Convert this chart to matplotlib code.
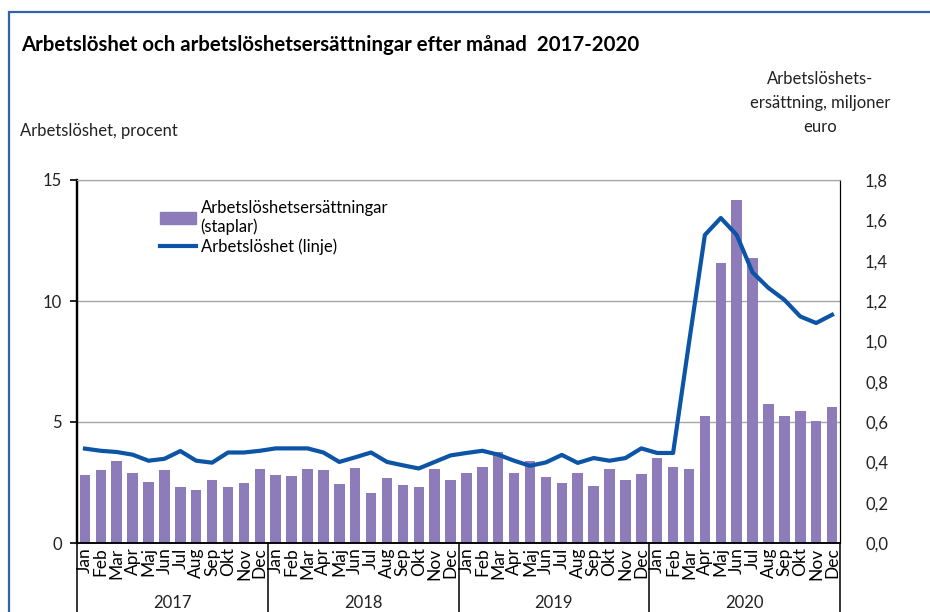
import matplotlib
matplotlib.use("Agg")
from matplotlib import pyplot as plt
from matplotlib.patches import Rectangle
from matplotlib.lines import Line2D
from matplotlib.transforms import blended_transform_factory

plt.rcParams['font.family'] = ['Lato', 'DejaVu Sans']

years = ["2017", "2018", "2019", "2020"]
months = ["Jan", "Feb", "Mar", "Apr", "Maj", "Jun", "Jul", "Aug", "Sep", "Okt", "Nov", "Dec"]

# arbetslöshetsersättningar, miljoner euro (staplar)
ersattning = [
    0.337, 0.363, 0.408, 0.347, 0.304, 0.363, 0.276, 0.264, 0.312, 0.276, 0.299, 0.368,
    0.337, 0.334, 0.368, 0.360, 0.294, 0.373, 0.249, 0.321, 0.289, 0.276, 0.368, 0.312,
    0.347, 0.377, 0.451, 0.347, 0.406, 0.329, 0.299, 0.347, 0.281, 0.365, 0.312, 0.342,
    0.421, 0.377, 0.368, 0.630, 1.386, 1.699, 1.413, 0.689, 0.630, 0.654, 0.606, 0.673,
]
# arbetslöshet, procent (linje)
arbetsloshet = [
    3.90, 3.81, 3.76, 3.65, 3.40, 3.48, 3.80, 3.40, 3.32, 3.74, 3.74, 3.81,
    3.91, 3.91, 3.91, 3.74, 3.35, 3.54, 3.74, 3.35, 3.21, 3.08, 3.35, 3.62,
    3.72, 3.81, 3.65, 3.40, 3.19, 3.33, 3.64, 3.31, 3.51, 3.40, 3.51, 3.91,
    3.72, 3.72, 8.27, 12.73, 13.43, 12.73, 11.18, 10.54, 10.05, 9.36, 9.09, 9.43,
]

W, H = 930, 612
fig = plt.figure(figsize=(W / 100, H / 100), dpi=100)
ax = fig.add_axes([77 / W, 1 - 543 / H, (840 - 77) / W, 363 / H])
ax2 = ax.twinx()

x = list(range(len(ersattning)))

# bars on right axis
ax.bar(x, ersattning, width=0.66, color="#8E7CBA", zorder=2)
ax.set_ylim(0, 1.8)
ax.set_xlim(-0.5, len(x) - 0.5)
for g in [0.6, 1.2, 1.8]:
    ax.axhline(g, color="#A6A6A6", lw=1.0, zorder=0)
ax.yaxis.tick_right()
ax.set_yticks([i * 0.2 for i in range(10)])
ax.set_yticklabels([f"{i * 0.2:.1f}".replace(".", ",") for i in range(10)])
ax.tick_params(axis="y", length=0, pad=18, labelsize=12, colors="#222222")
ax.tick_params(axis="x", bottom=False, labelbottom=False)

# line on left axis
ax2.plot(x, arbetsloshet, color="#0B54A6", lw=3.0, zorder=3, solid_joinstyle="round")
ax2.set_ylim(0, 15)
ax2.set_yticks([0, 5, 10, 15])
ax2.yaxis.tick_left()
ax2.tick_params(axis="y", length=5, width=1.2, pad=6, labelsize=12, colors="black",
                labelcolor="#222222")

for a in (ax, ax2):
    a.spines["top"].set_color("#A6A6A6")
    a.spines["left"].set_color("black")
    a.spines["right"].set_color("black")
    a.spines["bottom"].set_color("black")
    a.spines["left"].set_linewidth(1.6)
    a.spines["bottom"].set_linewidth(1.1)

# month and year labels
tr = blended_transform_factory(ax.transData, ax.transAxes)
for i in x:
    ax.text(i, -0.012, months[i % 12], rotation=90, ha="center", va="top",
            fontsize=12.5, transform=tr)
for k, yr in enumerate(years):
    ax.text(k * 12 + 5.5, -0.165, yr, ha="center", va="center", fontsize=12,
            transform=tr, color="#222222")
for k in range(len(years) + 1):
    ax.add_line(Line2D([k * 12 - 0.5, k * 12 - 0.5], [0, -0.2], transform=tr,
                       color="black", lw=1.1, clip_on=False))

# legend
handles = [Rectangle((0, 0), 1, 1, color="#8E7CBA"),
           Line2D([], [], color="#0B54A6", lw=3.0)]
labels = ["Arbetslöshetsersättningar\n(staplar)", "Arbetslöshet (linje)"]
fig.legend(handles, labels, loc="upper left", bbox_to_anchor=(153 / W, 1 - 193 / H),
           frameon=False, fontsize=12, handlelength=2.2, handletextpad=0.25,
           labelspacing=0.2, borderaxespad=0)

# titles
fig.text(21 / W, 1 - 45 / H, "Arbetslöshet och arbetslöshetsersättningar efter månad  2017-2020",
         fontsize=14.7, fontweight="bold", va="center", ha="left")
fig.text(20 / W, 1 - 131 / H, "Arbetslöshet, procent", fontsize=12, va="center", ha="left",
         color="#222222")
fig.text(820 / W, 1 - 103 / H, "Arbetslöshets-\nersättning, miljoner\neuro", fontsize=12,
         va="center", ha="center", multialignment="center", linespacing=1.6, color="#222222")

# outer frame
fig.add_artist(Rectangle((9 / W, -0.1), 1.2, 1 - 12 / H + 0.1, transform=fig.transFigure,
                         fill=False, edgecolor="#2F64AA", lw=1.6))

fig.savefig("out.png", dpi=100)
